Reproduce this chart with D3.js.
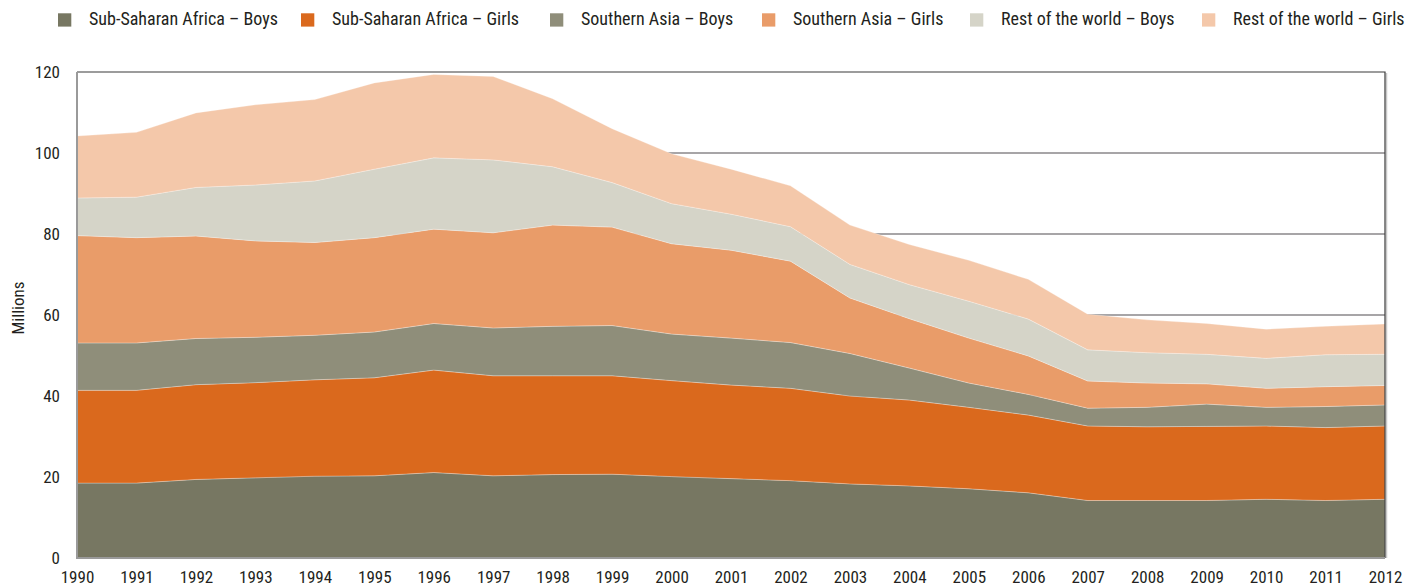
<!DOCTYPE html>
<html>
<head>
<meta charset="utf-8">
<script src="https://cdn.jsdelivr.net/npm/d3@7"></script>
<style>
  body { margin: 0; background: #fff; }
  svg { display: block; }
  text { fill: #231f20; font-family: "Roboto Condensed", "Liberation Sans Narrow", "Liberation Sans", sans-serif; }
</style>
</head>
<body>
<svg id="chart"></svg>
<script>
const years = d3.range(1990, 2013);

const seriesNames = [
  "Sub-Saharan Africa – Boys",
  "Sub-Saharan Africa – Girls",
  "Southern Asia – Boys",
  "Southern Asia – Girls",
  "Rest of the world – Boys",
  "Rest of the world – Girls"
];

// out-of-school children, millions
const ssaBoys  = [18.5, 18.5, 19.4, 19.8, 20.2, 20.3, 21.1, 20.3, 20.6, 20.7, 20.1, 19.6, 19.1, 18.3, 17.8, 17.1, 16.1, 14.2, 14.2, 14.2, 14.5, 14.2, 14.5];
const ssaGirls = [22.9, 22.9, 23.4, 23.5, 23.8, 24.2, 25.3, 24.7, 24.4, 24.3, 23.7, 23.1, 22.8, 21.7, 21.2, 20.1, 19.2, 18.4, 18.2, 18.3, 18.1, 18.0, 18.1];
const saBoys   = [11.7, 11.7, 11.4, 11.2, 11.0, 11.3, 11.5, 11.8, 12.2, 12.4, 11.5, 11.6, 11.3, 10.5, 7.9, 6.0, 5.1, 4.4, 4.8, 5.5, 4.6, 5.2, 5.2];
const saGirls  = [26.5, 26.0, 25.3, 23.8, 22.9, 23.3, 23.3, 23.5, 25.0, 24.3, 22.3, 21.7, 20.1, 13.7, 12.2, 11.1, 9.5, 6.7, 6.0, 5.0, 4.7, 4.9, 4.8];
const rowBoys  = [9.3, 10.0, 12.0, 13.8, 15.2, 16.9, 17.6, 18.0, 14.4, 11.0, 9.9, 8.9, 8.5, 8.3, 8.4, 9.1, 9.1, 7.7, 7.5, 7.3, 7.4, 7.9, 7.7];
const rowGirls = [15.3, 16.0, 18.4, 19.8, 20.1, 21.3, 20.6, 20.6, 16.8, 13.3, 12.3, 11.1, 10.1, 9.7, 9.9, 10.1, 9.8, 8.8, 8.1, 7.6, 7.2, 7.0, 7.5];

const yTicks = [0, 20, 40, 60, 80, 100, 120];

const colors = ["#777762", "#da691d", "#8f8e7a", "#e99c69", "#d5d4c8", "#f4c8aa"];

const width = 1407, height = 586;
const margin = { top: 72, right: 22, bottom: 28, left: 77 };

const svg = d3.select("#chart").attr("width", width).attr("height", height);

// build table for the stack
const allSeries = [ssaBoys, ssaGirls, saBoys, saGirls, rowBoys, rowGirls];
const table = years.map((yr, i) => {
  const row = { year: yr };
  seriesNames.forEach((n, k) => { row[n] = allSeries[k][i]; });
  return row;
});

const stacked = d3.stack().keys(seriesNames)(table);

const x = d3.scalePoint()
  .domain(years)
  .range([margin.left, width - margin.right]);

const y = d3.scaleLinear()
  .domain([0, 120])
  .range([height - margin.bottom, margin.top]);

// gridlines (only show through where there is no area)
svg.append("g")
  .selectAll("line")
  .data(yTicks.filter(d => d > 0 && d < 120))
  .join("line")
  .attr("x1", margin.left)
  .attr("x2", width - margin.right)
  .attr("y1", d => y(d))
  .attr("y2", d => y(d))
  .attr("stroke", "#8a878a")
  .attr("stroke-width", 1.5);

const area = d3.area()
  .x(d => x(d.data.year))
  .y0(d => y(d[0]))
  .y1(d => y(d[1]));

svg.append("g")
  .selectAll("path")
  .data(stacked)
  .join("path")
  .attr("d", area)
  .attr("fill", (d, i) => colors[i])
  .attr("stroke", "rgba(255,255,255,0.35)")
  .attr("stroke-width", 0.8);

// frame: top and right dark, left and bottom grey
const x0 = margin.left, x1 = width - margin.right;
const yTop = y(120), yBot = y(0);
svg.append("line")
  .attr("x1", x1 + 1.5).attr("x2", x1 + 1.5).attr("y1", yTop + 1).attr("y2", yBot)
  .attr("stroke", "#c8c8c8").attr("stroke-width", 1.5);
svg.append("path")
  .attr("d", `M${x0},${yTop}H${x1}V${yBot}`)
  .attr("fill", "none")
  .attr("stroke", "#3a3a3a")
  .attr("stroke-width", 1.2);
svg.append("path")
  .attr("d", `M${x0},${yTop}V${yBot}H${x1}`)
  .attr("fill", "none")
  .attr("stroke", "#9a9a9a")
  .attr("stroke-width", 2);

// y axis labels
const yAxis = d3.axisLeft(y).tickValues(yTicks).tickSize(0).tickPadding(17);
svg.append("g")
  .attr("transform", `translate(${margin.left},0)`)
  .call(yAxis)
  .call(g => g.select(".domain").remove())
  .call(g => g.selectAll("text").attr("font-size", 17).style("font-family", null).attr("fill", "#231f20"));

// x axis labels
const xAxis = d3.axisBottom(x).tickSize(0).tickPadding(13);
svg.append("g")
  .attr("transform", `translate(0,${yBot})`)
  .call(xAxis)
  .call(g => g.select(".domain").remove())
  .call(g => g.selectAll("text").attr("font-size", 17).style("font-family", null).attr("fill", "#231f20"));

svg.append("text")
  .attr("transform", `translate(24,308) rotate(-90)`)
  .attr("text-anchor", "middle")
  .attr("font-size", 17)
  .text("Millions");

// legend
const legendX = [58, 301, 550, 762, 970, 1202];
const legend = svg.append("g")
  .selectAll("g")
  .data(seriesNames)
  .join("g")
  .attr("transform", (d, i) => `translate(${legendX[i]},0)`);

legend.append("rect")
  .attr("y", 13.3)
  .attr("width", 13.3)
  .attr("height", 13.3)
  .attr("fill", (d, i) => colors[i]);

legend.append("text")
  .attr("x", 31)
  .attr("y", 25)
  .attr("font-size", 18)
  .text(d => d);
</script>
</body>
</html>
